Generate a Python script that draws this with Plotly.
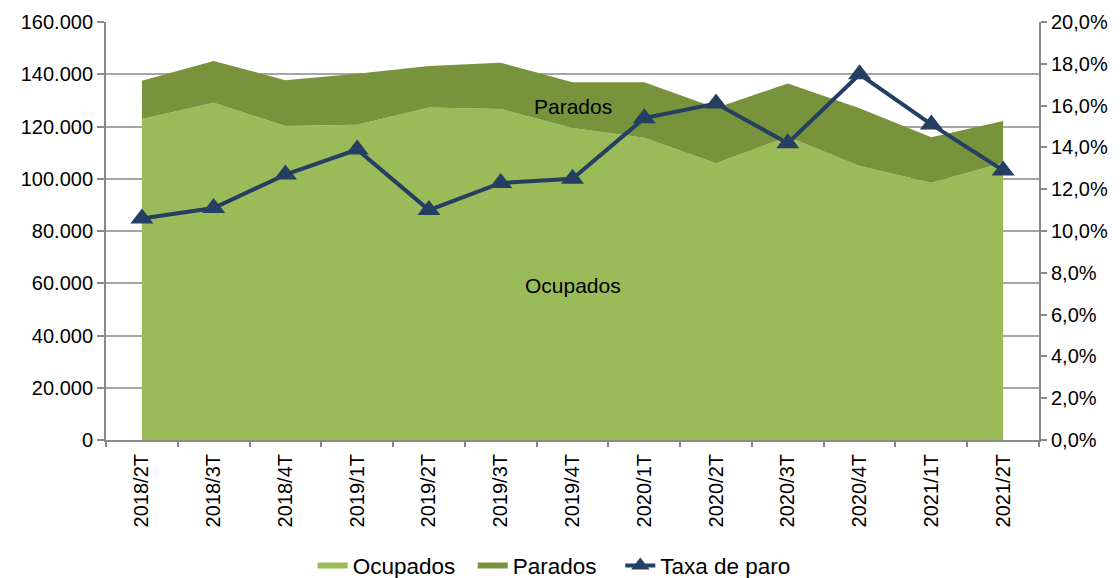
import plotly.graph_objects as go

categories = ["2018/2T", "2018/3T", "2018/4T", "2019/1T", "2019/2T", "2019/3T", "2019/4T",
              "2020/1T", "2020/2T", "2020/3T", "2020/4T", "2021/1T", "2021/2T"]
ocupados = [122900, 129100, 120200, 120700, 127300, 126700, 119400,
            115700, 105900, 116100, 104900, 98500, 106100]
parados = [14600, 16000, 17500, 19500, 15900, 17700, 17500,
           21200, 21200, 20400, 22100, 17400, 16000]
taxa_paro = [0.106, 0.111, 0.127, 0.139, 0.110, 0.123, 0.125,
             0.154, 0.161, 0.142, 0.175, 0.151, 0.129]

FONT = "Arial, Liberation Sans, sans-serif"
AXIS_GRAY = "#898989"
TICK_SIZE = 20
NBSP = "\u00a0"

fig = go.Figure()
fig.add_trace(go.Scatter(
    x=categories, y=ocupados, name="Ocupados" + NBSP * 2, mode="none",
    stackgroup="one", fillcolor="#9BBB59", hoverinfo="x+y"))
fig.add_trace(go.Scatter(
    x=categories, y=parados, name="Parados" + NBSP * 3, mode="none",
    stackgroup="one", fillcolor="#77933C", hoverinfo="x+y"))
fig.add_trace(go.Scatter(
    x=categories, y=taxa_paro, name="Taxa de paro", yaxis="y2",
    mode="lines+markers",
    line=dict(color="#243F62", width=4),
    marker=dict(symbol="triangle-up", size=20, color="#243F62")))

fig.add_annotation(x="2019/4T", y=127500, xref="x", yref="y", text="Parados",
                   showarrow=False, font=dict(size=21, color="#000000", family=FONT))
fig.add_annotation(x="2019/4T", y=59300, xref="x", yref="y", text="Ocupados",
                   showarrow=False, font=dict(size=21, color="#000000", family=FONT))

fig.update_layout(
    width=1120, height=578,
    margin=dict(l=98, r=89, t=14, b=146, autoexpand=False),
    paper_bgcolor="white", plot_bgcolor="white",
    separators=",.",
    font=dict(family=FONT, size=TICK_SIZE, color="#000000"),
    showlegend=True,
    legend=dict(orientation="h", xref="container", x=0.272, xanchor="left",
                y=0.035, yanchor="middle", yref="container",
                traceorder="normal",
                font=dict(size=22.5, family=FONT)),
    xaxis=dict(type="category", range=[-0.5, 12.5], tickangle=-90, automargin=False,
               tickson="boundaries", ticks="outside", ticklen=5, tickcolor=AXIS_GRAY,
               tickwidth=2, showline=True, linecolor=AXIS_GRAY, linewidth=2,
               showgrid=False, tickfont=dict(size=TICK_SIZE), ticklabelstandoff=4),
    yaxis=dict(range=[0, 160000], dtick=20000, tickformat=",d", automargin=False,
               showgrid=True, gridcolor="#A6A6A6", gridwidth=1.5,
               showline=True, linecolor=AXIS_GRAY, linewidth=2,
               ticks="outside", ticklen=7, tickcolor=AXIS_GRAY, tickwidth=1.5,
               zeroline=False, tickfont=dict(size=TICK_SIZE)),
    yaxis2=dict(range=[0, 0.2], dtick=0.02, tickformat=".1%", overlaying="y",
                side="right", showgrid=False, showline=True, linecolor=AXIS_GRAY,
                linewidth=2, ticks="outside", ticklen=6, tickcolor=AXIS_GRAY,
                automargin=False,
                tickwidth=1.5, zeroline=False, tickfont=dict(size=TICK_SIZE)),
)

fig.write_html("out.html")
